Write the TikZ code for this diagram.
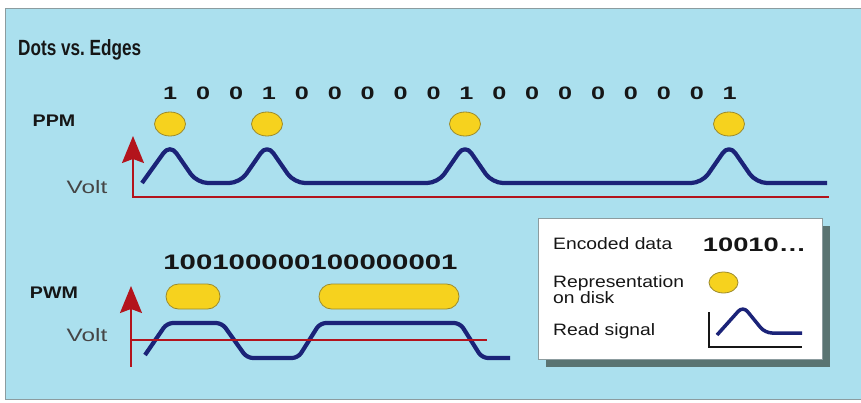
\documentclass[tikz,border=0pt]{standalone}
\usepackage{fontspec}
\setmainfont[FakeStretch=1.17]{Liberation Sans}
\newfontfamily\widedigits[FakeStretch=1.4]{Liberation Sans}
\newfontfamily\titlefont[FakeStretch=0.78]{Liberation Sans}
\newfontfamily\voltfont[FakeStretch=1.35]{Liberation Sans}
\usetikzlibrary{arrows.meta,positioning,shapes.geometric}
\definecolor{panel}{HTML}{ABE0EE}
\definecolor{frame}{HTML}{8C9C9F}
\definecolor{signal}{HTML}{1B2378}
\definecolor{axisred}{HTML}{B3141C}
\definecolor{dot}{HTML}{F6D21E}
\definecolor{dotline}{HTML}{9C8A2C}
\definecolor{shade}{HTML}{5A7472}
\definecolor{ink}{HTML}{161616}
\tikzset{
  rowlabel/.style={font=\bfseries\fontsize{16.8}{17}\selectfont,text=ink,inner sep=0pt},
  bits/.style={font=\widedigits\bfseries\fontsize{18}{18}\selectfont,text=ink,inner sep=0pt,
    execute at begin node={\spaceskip=18.9pt\relax}},
  widebits/.style={font=\widedigits\bfseries\fontsize{21}{21}\selectfont,text=ink,inner sep=0pt},
  volt/.style={font=\voltfont\fontsize{18}{18}\selectfont,text=ink!80,inner sep=0pt},
  legendtext/.style={font=\fontsize{16.5}{16}\selectfont,text=ink,inner sep=0pt,align=left},
  dotmark/.style={ellipse,draw=dotline,fill=dot,line width=0.8pt,minimum width=31pt,
    minimum height=24pt,inner sep=0pt},
  pill/.style={draw=dotline,fill=dot,line width=0.8pt,rounded corners=12.5pt,
    minimum height=25pt,inner sep=0pt},
  readsig/.style={draw=signal,line width=4.2pt,line join=round,rounded corners=11pt},
  axis/.style={draw=axisred,line width=1.6pt},
  axisarrow/.style={axis,{Stealth[length=27pt,width=22pt,inset=4pt]}-}
}
\begin{document}
\begin{tikzpicture}[x=1pt,y=-1pt]
  \useasboundingbox (0,0) rectangle (861,402);
  \fill[white] (0,0) rectangle (861,402);
  \draw[frame,fill=panel,line width=0.8pt] (5,8) rectangle (861,399);
  \node[anchor=base west,inner sep=0pt,text=ink,
    font=\titlefont\bfseries\fontsize{22}{22}\selectfont] (title) at (18,55) {Dots vs.\ Edges};

  % PPM
  \node[rowlabel] (ppm label) at (54,121) {PPM};
  \node[bits] (ppm bits) at (450,93.5) {1 0 0 1 0 0 0 0 0 1 0 0 0 0 0 0 0 1};
  \foreach \c [count=\i] in {170,267,465,729}
    \node[dotmark] (ppm dot\i) at (\c,124) {};
  \node[volt] (ppm volt) at (87,187) {Volt};
  \draw[readsig] (142,183) -- (170,144) -- (197,183)
    \foreach \c in {267,465,729} { -- (\c-27,183) -- (\c,144) -- (\c+27,183) } -- (827,183);
  \coordinate (ppm origin) at (133,197);
  \draw[axisarrow] (133,136) -- (ppm origin) -- (829,197);

  % PWM
  \node[rowlabel] (pwm label) at (54,293) {PWM};
  \node[widebits] (pwm bits) at (310.5,262.5) {100100000100000001};
  \node[pill,minimum width=54pt] (pwm pill1) at (193,296.5) {};
  \node[pill,minimum width=140pt] (pwm pill2) at (389,296.5) {};
  \node[volt] (pwm volt) at (87,335) {Volt};
  \draw[readsig,rounded corners=6pt] (145,355) -- (167,323) -- (222,323) -- (247,358)
    -- (298,358) -- (320,323) -- (460,323) -- (482,358) -- (510,358);
  \coordinate (pwm origin) at (131,340);
  \draw[axisarrow] (131,286) -- (131,367);
  \draw[axis] (pwm origin) -- (487,340);

  % legend
  \node[fill=shade,minimum width=284pt,minimum height=141pt,inner sep=0pt] (legend shadow) at (688,296.5) {};
  \node[draw=frame,fill=white,line width=0.6pt,minimum width=284pt,minimum height=141pt,inner sep=0pt] (legend) at (680,288.5) {};
  \node[legendtext,anchor=base west] (enc text) at (553,249) {Encoded data};
  \node[widebits,font=\widedigits\bfseries\fontsize{19.5}{20}\selectfont] (enc bits) at (754.5,245) {10010\dots};
  \node[legendtext,anchor=north west] (rep text) at (553,275) {Representation\\on disk};
  \node[dotmark,minimum width=29pt,minimum height=21pt] (rep dot) at (723.5,282.5) {};
  \node[legendtext,anchor=base west] (read text) at (553,335) {Read signal};
  \draw[ink,line width=1.4pt] (709,312) -- (709,347) -- (802,347);
  \draw[readsig,line width=3.5pt,rounded corners=7pt] (717,335) -- (743,306) -- (765,333) -- (802,333);
\end{tikzpicture}
\end{document}
